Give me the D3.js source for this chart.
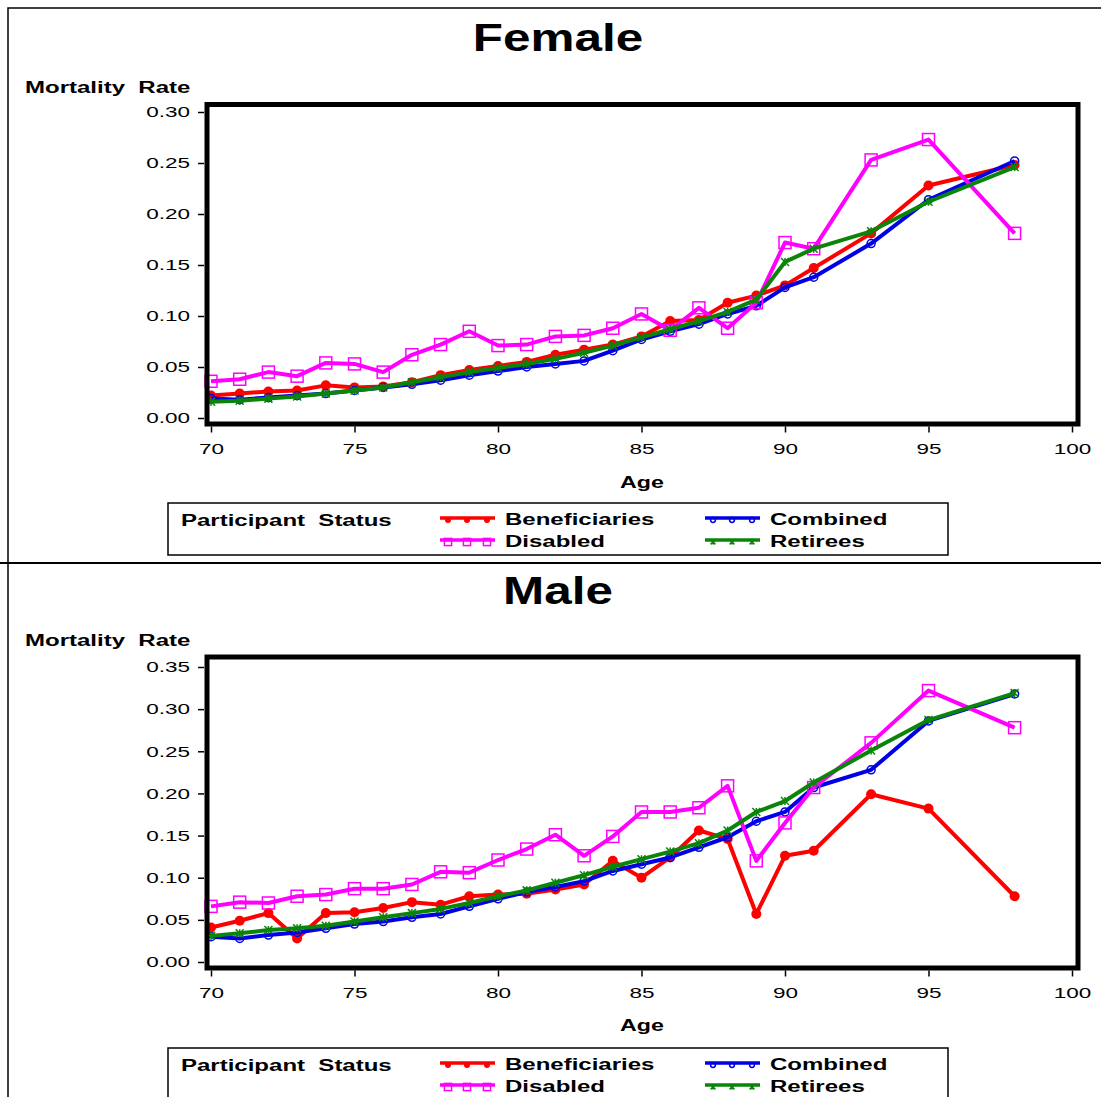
<!DOCTYPE html>
<html>
<head>
<meta charset="utf-8">
<script src="https://cdn.jsdelivr.net/npm/d3@7"></script>
<style>
  body { margin: 0; background: #fff; }
  svg text { font-family: "Liberation Sans", Arial, sans-serif; fill: #000; white-space: pre; }
</style>
</head>
<body>
<svg id="chart" width="1101" height="1097"></svg>
<script>
// ages on the x axis (older ages grouped)
const ages = [70,71,72,73,74,75,76,77,78,79,80,81,82,83,84,85,86,87,88,89,90,91,93,95,98];

const femaleBeneficiaries = [0.022,0.024,0.026,0.027,0.032,0.030,0.031,0.035,0.042,0.047,0.051,0.055,0.062,0.067,0.072,0.080,0.095,0.096,0.113,0.120,0.130,0.147,0.181,0.228,0.248];
const femaleCombined      = [0.019,0.018,0.020,0.022,0.024,0.027,0.030,0.033,0.037,0.042,0.046,0.050,0.053,0.056,0.066,0.077,0.085,0.092,0.102,0.110,0.128,0.138,0.171,0.214,0.252];
const femaleDisabled      = [0.036,0.038,0.045,0.041,0.054,0.053,0.045,0.062,0.072,0.085,0.071,0.072,0.080,0.081,0.088,0.102,0.086,0.108,0.088,0.113,0.172,0.166,0.253,0.273,0.181];
const femaleRetirees      = [0.016,0.017,0.019,0.021,0.024,0.027,0.030,0.035,0.040,0.045,0.049,0.053,0.058,0.064,0.071,0.079,0.087,0.095,0.104,0.116,0.153,0.166,0.183,0.212,0.246];

const maleBeneficiaries = [0.041,0.049,0.058,0.028,0.058,0.059,0.064,0.071,0.068,0.078,0.080,0.081,0.086,0.092,0.120,0.100,0.124,0.156,0.146,0.057,0.126,0.132,0.199,0.182,0.078];
const maleCombined      = [0.030,0.028,0.032,0.035,0.040,0.045,0.048,0.053,0.057,0.066,0.075,0.083,0.089,0.096,0.108,0.116,0.124,0.136,0.148,0.167,0.178,0.207,0.228,0.286,0.318];
const maleDisabled      = [0.066,0.071,0.070,0.078,0.080,0.087,0.087,0.092,0.107,0.106,0.121,0.134,0.151,0.126,0.149,0.178,0.178,0.183,0.209,0.120,0.165,0.207,0.260,0.322,0.278];
const maleRetirees      = [0.031,0.034,0.038,0.040,0.043,0.048,0.053,0.058,0.063,0.070,0.078,0.085,0.094,0.103,0.113,0.122,0.131,0.141,0.156,0.178,0.191,0.213,0.251,0.287,0.319];

const xTicks = [70,75,80,85,90,95,100];
const femaleYTicks = [0,0.05,0.10,0.15,0.20,0.25,0.30];
const maleYTicks = [0,0.05,0.10,0.15,0.20,0.25,0.30,0.35];

const seriesNames = ["Beneficiaries","Combined","Disabled","Retirees"];
const seriesColors = ["#ff0000","#0000e6","#ff00ff","#0a850a"];
const seriesSymbols = ["dot","circle","square","star"];

const svg = d3.select("#chart");

// stretch text to mimic the wide SAS font
function widen(sel, k) {
  sel.each(function() {
    const w = this.getComputedTextLength();
    d3.select(this).attr("textLength", w * k).attr("lengthAdjust", "spacingAndGlyphs");
  });
}

function drawMarker(g, sym, color, cx, cy, s) {
  if (sym === "dot") {
    g.append("circle").attr("cx", cx).attr("cy", cy).attr("r", 5 * s).attr("fill", color);
  } else if (sym === "circle") {
    g.append("circle").attr("cx", cx).attr("cy", cy).attr("r", 4 * s)
      .attr("fill", "none").attr("stroke", color).attr("stroke-width", 1.5);
  } else if (sym === "square") {
    const h = 6 * s;
    g.append("rect").attr("x", cx - h).attr("y", cy - h).attr("width", 2 * h).attr("height", 2 * h)
      .attr("fill", "none").attr("stroke", color).attr("stroke-width", 1.5);
  } else {
    const h = 4 * s;
    g.append("path")
      .attr("d", `M${cx-h},${cy-h}L${cx+h},${cy+h}M${cx-h},${cy+h}L${cx+h},${cy-h}M${cx},${cy-h}L${cx},${cy+h}`)
      .attr("stroke", color).attr("stroke-width", 1.5).attr("fill", "none");
  }
}

// outer page frame and separator
svg.append("rect").attr("x", 8).attr("y", 8).attr("width", 1100).attr("height", 1100)
  .attr("fill", "none").attr("stroke", "#000").attr("stroke-width", 1.5);
svg.append("line").attr("x1", 0).attr("x2", 1101).attr("y1", 563).attr("y2", 563)
  .attr("stroke", "#000").attr("stroke-width", 2);

const panels = [
  { title: "Female", series: [femaleBeneficiaries, femaleCombined, femaleDisabled, femaleRetirees],
    yTicks: femaleYTicks, yMax: 0.30, titleY: 37, labelY: 87, frameTop: 104.5, frameBottom: 424,
    yZero: 418, yTop: 112, tickLabelY: 449, ageY: 482, legendTop: 503 },
  { title: "Male", series: [maleBeneficiaries, maleCombined, maleDisabled, maleRetirees],
    yTicks: maleYTicks, yMax: 0.35, titleY: 590, labelY: 640, frameTop: 657, frameBottom: 968,
    yZero: 962, yTop: 667, tickLabelY: 993, ageY: 1025, legendTop: 1048 }
];

const x = d3.scaleLinear().domain([70, 100]).range([211, 1072]);

panels.forEach(p => {
  const g = svg.append("g");
  const y = d3.scaleLinear().domain([0, p.yMax]).range([p.yZero, p.yTop]);

  g.append("text").attr("x", 558).attr("y", p.titleY).attr("dy", "0.36em")
    .attr("text-anchor", "middle").attr("font-size", 38).attr("font-weight", "bold")
    .text(p.title).call(widen, 1.3);

  g.append("text").attr("x", 25).attr("y", p.labelY).attr("dy", "0.36em")
    .attr("font-size", 16).attr("font-weight", "bold")
    .text("Mortality  Rate").call(widen, 1.5);

  // y axis
  const yAxis = g.append("g").attr("transform", "translate(204,0)")
    .call(d3.axisLeft(y).tickValues(p.yTicks).tickFormat(d3.format(".2f")).tickSize(6).tickPadding(8));
  yAxis.select(".domain").remove();
  yAxis.selectAll("line").attr("stroke", "#000").attr("stroke-width", 1.5);
  yAxis.selectAll("text").attr("font-size", 15).attr("font-family", null).call(widen, 1.5);

  // x axis
  const xAxis = g.append("g").attr("transform", `translate(0,${p.frameBottom + 2.5})`)
    .call(d3.axisBottom(x).tickValues(xTicks).tickFormat(d3.format("d")).tickSize(6).tickPadding(p.tickLabelY - p.frameBottom - 14));
  xAxis.select(".domain").remove();
  xAxis.selectAll("line").attr("stroke", "#000").attr("stroke-width", 1.5);
  xAxis.selectAll("text").attr("font-size", 15).attr("font-family", null).call(widen, 1.5);

  g.append("text").attr("x", 642).attr("y", p.ageY).attr("dy", "0.36em")
    .attr("text-anchor", "middle").attr("font-size", 16).attr("font-weight", "bold")
    .text("Age").call(widen, 1.45);

  // series
  const line = d3.line().x(d => x(d.age)).y(d => y(d.v));
  p.series.forEach((vals, i) => {
    const pts = ages.map((a, j) => ({ age: a, v: vals[j] }));
    const sg = g.append("g");
    sg.append("path").datum(pts).attr("d", line).attr("fill", "none")
      .attr("stroke", seriesColors[i]).attr("stroke-width", 4).attr("stroke-linejoin", "round");
    pts.forEach(d => drawMarker(sg, seriesSymbols[i], seriesColors[i], x(d.age), y(d.v), 1));
  });

  // plot frame
  g.append("rect").attr("x", 207).attr("y", p.frameTop).attr("width", 871)
    .attr("height", p.frameBottom - p.frameTop)
    .attr("fill", "none").attr("stroke", "#000").attr("stroke-width", 5);

  // legend
  const lg = g.append("g").attr("transform", `translate(0,${p.legendTop})`);
  lg.append("rect").attr("x", 168).attr("y", 0).attr("width", 780).attr("height", 52)
    .attr("fill", "none").attr("stroke", "#000").attr("stroke-width", 1.5);
  lg.append("text").attr("x", 181).attr("y", 17).attr("dy", "0.36em")
    .attr("font-size", 16).attr("font-weight", "bold")
    .text("Participant  Status").call(widen, 1.5);
  const slots = [[440, 15], [705, 15], [440, 37], [705, 37]];
  seriesNames.forEach((name, i) => {
    const [sx, sy] = slots[i];
    lg.append("line").attr("x1", sx).attr("x2", sx + 55).attr("y1", sy).attr("y2", sy)
      .attr("stroke", seriesColors[i]).attr("stroke-width", 3.5);
    [8, 27, 47].forEach(o => drawMarker(lg, seriesSymbols[i], seriesColors[i], sx + o, sy + 2, 0.6));
    lg.append("text").attr("x", sx + 65).attr("y", sy + 1).attr("dy", "0.36em")
      .attr("font-size", 16).attr("font-weight", "bold")
      .text(name).call(widen, 1.5);
  });
});
</script>
</body>
</html>
